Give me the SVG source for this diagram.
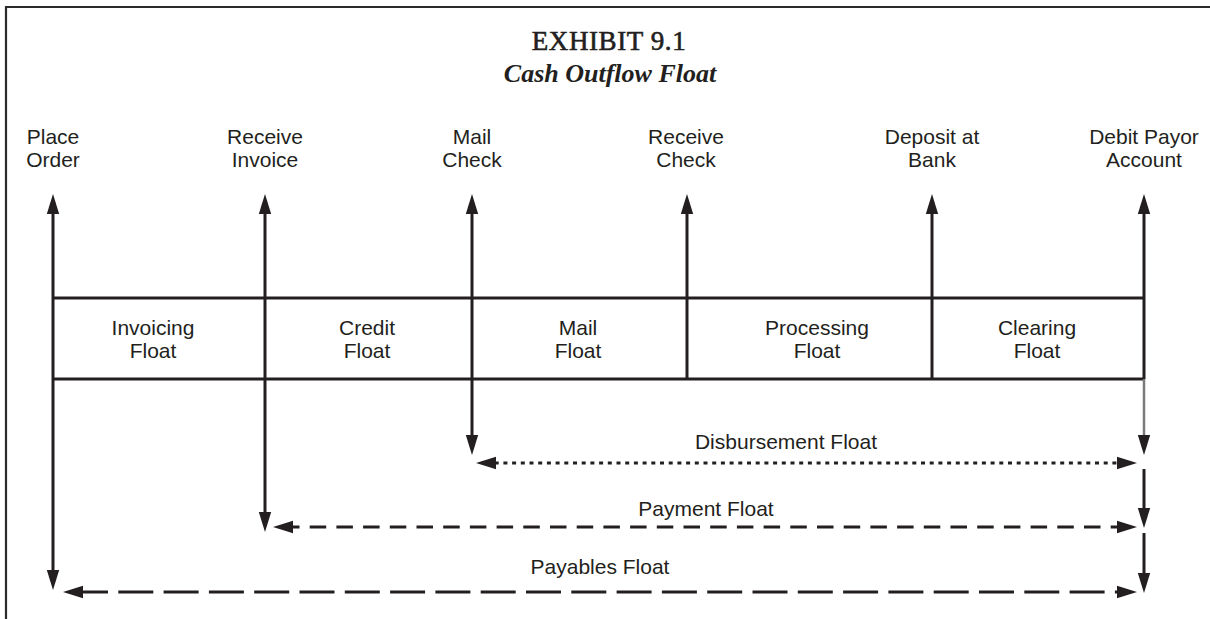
<svg xmlns="http://www.w3.org/2000/svg" width="1210" height="619" viewBox="0 0 1210 619">
  <style>
    .frame { stroke: #2b2b2b; stroke-width: 2.2; fill: none; }
    .title { font-family: "Liberation Serif", "DejaVu Serif", serif; fill: #231f20; text-anchor: middle; }
    .lbl { font-family: "Liberation Sans", Arial, sans-serif; font-size: 21px; fill: #231f20; text-anchor: middle; }
    .ln { stroke: #231f20; stroke-width: 3; fill: none; }
    .faint { stroke: #7a7a7a; stroke-width: 2.5; fill: none; }
    .dot { stroke-dasharray: 4 4.7; }
    .dash { stroke-dasharray: 16.5 10.2; }
    .longdash { stroke-dasharray: 35 10.3; }
  </style>
  <defs>
    <marker id="ah" markerUnits="userSpaceOnUse" markerWidth="22" markerHeight="14" refX="10" refY="7" orient="auto-start-reverse">
      <path d="M0,0.8 L20,7 L0,13.2 z" fill="#231f20"/>
    </marker>
  </defs>

  <rect width="1210" height="619" fill="#ffffff"/>

  <!-- outer frame: top and left edges -->
  <path class="frame" d="M6,619 V7 H1210"/>

  <!-- heading -->
  <g id="heading">
    <text class="title" x="609" y="50" font-size="27" letter-spacing="0.6" stroke="#231f20" stroke-width="0.6">EXHIBIT 9.1</text>
    <text class="title" x="610" y="82" font-size="26" font-style="italic" font-weight="bold">Cash Outflow Float</text>
  </g>

  <!-- timeline band -->
  <g id="timeline-band">
    <line class="ln" x1="53" y1="298" x2="1144" y2="298"/>
    <line class="ln" x1="53" y1="379" x2="1144" y2="379"/>
  </g>

  <!-- events -->
  <g id="place-order">
    <text class="lbl" x="53" y="144">Place</text>
    <text class="lbl" x="53" y="167">Order</text>
  </g>
  <g id="receive-invoice">
    <text class="lbl" x="265" y="144">Receive</text>
    <text class="lbl" x="265" y="167">Invoice</text>
  </g>
  <g id="mail-check">
    <text class="lbl" x="472" y="144">Mail</text>
    <text class="lbl" x="472" y="167">Check</text>
  </g>
  <g id="receive-check">
    <text class="lbl" x="686" y="144">Receive</text>
    <text class="lbl" x="686" y="167">Check</text>
  </g>
  <g id="deposit-at-bank">
    <text class="lbl" x="932" y="144">Deposit at</text>
    <text class="lbl" x="932" y="167">Bank</text>
  </g>
  <g id="debit-payor-account">
    <text class="lbl" x="1144" y="144">Debit Payor</text>
    <text class="lbl" x="1144" y="167">Account</text>
  </g>

  <!-- float segments -->
  <g id="invoicing-float">
    <text class="lbl" x="153" y="335">Invoicing</text>
    <text class="lbl" x="153" y="358">Float</text>
  </g>
  <g id="credit-float">
    <text class="lbl" x="367" y="335">Credit</text>
    <text class="lbl" x="367" y="358">Float</text>
  </g>
  <g id="mail-float">
    <text class="lbl" x="578" y="335">Mail</text>
    <text class="lbl" x="578" y="358">Float</text>
  </g>
  <g id="processing-float">
    <text class="lbl" x="817" y="335">Processing</text>
    <text class="lbl" x="817" y="358">Float</text>
  </g>
  <g id="clearing-float">
    <text class="lbl" x="1037" y="335">Clearing</text>
    <text class="lbl" x="1037" y="358">Float</text>
  </g>

  <!-- combined floats -->
  <g id="disbursement-float">
    <text class="lbl" x="786" y="449">Disbursement Float</text>
  </g>
  <g id="payment-float">
    <text class="lbl" x="706" y="516">Payment Float</text>
  </g>
  <g id="payables-float">
    <text class="lbl" x="600" y="574">Payables Float</text>
  </g>

  <!-- connectors -->
  <g id="connectors">
    <!-- event markers -->
    <line class="ln" x1="53" y1="204" x2="53" y2="580" marker-start="url(#ah)" marker-end="url(#ah)"/>
    <line class="ln" x1="265" y1="204" x2="265" y2="522" marker-start="url(#ah)" marker-end="url(#ah)"/>
    <line class="ln" x1="472" y1="204" x2="472" y2="445" marker-start="url(#ah)" marker-end="url(#ah)"/>
    <line class="ln" x1="687" y1="204" x2="687" y2="379" marker-start="url(#ah)"/>
    <line class="ln" x1="932" y1="204" x2="932" y2="379" marker-start="url(#ah)"/>
    <line class="ln" x1="1144" y1="204" x2="1144" y2="379" marker-start="url(#ah)"/>
    <line class="faint" x1="1144" y1="379" x2="1144" y2="445" marker-end="url(#ah)"/>
    <line class="ln" x1="1144" y1="469" x2="1144" y2="518" marker-end="url(#ah)"/>
    <line class="ln" x1="1144" y1="533" x2="1144" y2="583" marker-end="url(#ah)"/>

    <!-- float spans -->
    <line class="ln dot" x1="486" y1="463" x2="1127" y2="463" marker-start="url(#ah)" marker-end="url(#ah)"/>
    <line class="ln dash" x1="283" y1="527" x2="1127" y2="527" marker-start="url(#ah)" marker-end="url(#ah)"/>
    <line class="ln longdash" x1="73" y1="592" x2="1127" y2="592" marker-start="url(#ah)" marker-end="url(#ah)"/>
  </g>
</svg>
